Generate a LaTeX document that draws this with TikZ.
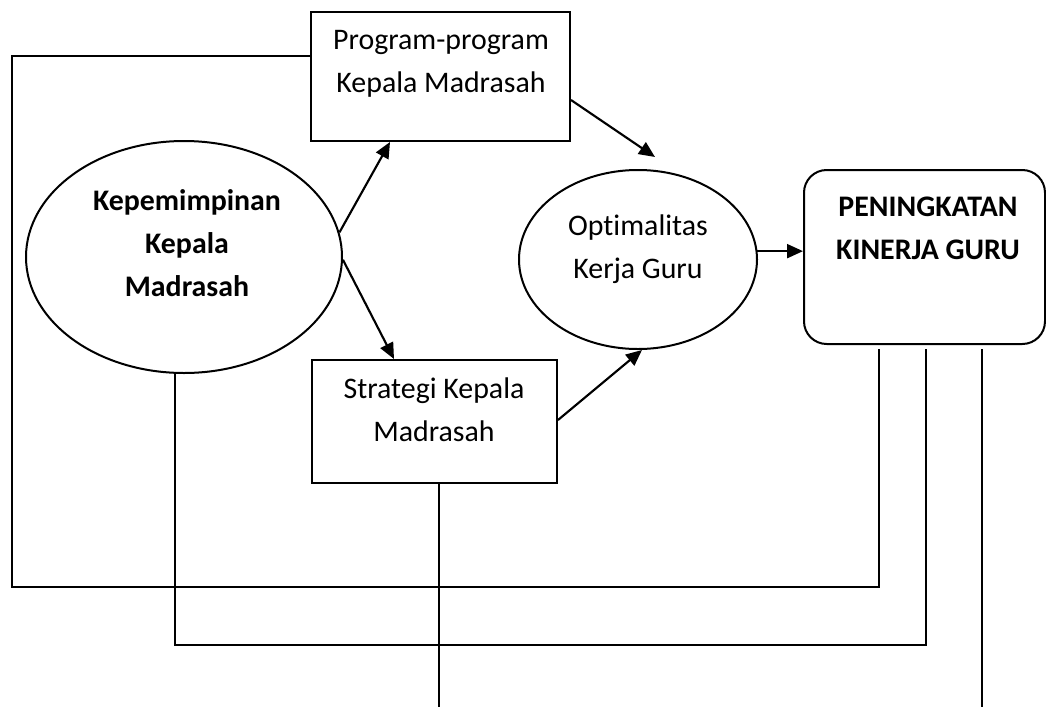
\documentclass[tikz,border=0pt]{standalone}
\usepackage{fontspec}
\setmainfont{Carlito}[Ligatures={NoCommon}]
\usetikzlibrary{shapes.geometric,arrows.meta,calc}
\begin{document}
\begin{tikzpicture}[x=0.75pt,y=-0.75pt,
  line width=1.5pt,
  boxshape/.style={draw,rectangle,inner sep=0pt,line width=1.5pt},
  ellshape/.style={draw,ellipse,inner sep=0pt,line width=1.5pt},
  rrshape/.style={draw,rectangle,rounded corners=17pt,inner sep=0pt,line width=1.5pt},
  txt/.style={align=center,inner sep=0pt,font=\fontsize{22.4}{32.6}\selectfont},
  btxt/.style={txt,font=\fontsize{22.4}{32}\selectfont\bfseries},
  arr/.style={-{Triangle[length=12pt,width=10.5pt]},line width=1.6pt},
  fb/.style={line width=1.5pt}]
\useasboundingbox (0,0) rectangle (1046,707);
% shapes
\node[boxshape,minimum width=194.25pt,minimum height=96.75pt] (b1) at (440.5,76.5) {};
\node[boxshape,minimum width=183.75pt,minimum height=92.25pt] (b2) at (434.5,421.5) {};
\node[ellshape,minimum width=237pt,minimum height=174pt] (e1) at (184,257) {};
\node[ellshape,minimum width=178.5pt,minimum height=134.25pt] (e2) at (638,259.5) {};
\node[rrshape,minimum width=180.75pt,minimum height=130.5pt] (r) at (924.5,257) {};
% texts
\node[txt] (t1) at (441,64) {Program-program\\Kepala Madrasah};
\node[txt] (t2) at (434,410) {Strategi Kepala\\Madrasah};
\node[btxt] (t3) at (187,243) {Kepemimpinan\\Kepala\\Madrasah};
\node[txt] (t4) at (638,249) {Optimalitas\\Kerja Guru};
\node[btxt] (t5) at (928,228) {PENINGKATAN\\KINERJA GURU};
% arrows
\draw[arr] (e1.9) -- ($(b1.south)+(-50.5,0)$);
\draw[arr] (e1.-1) -- ($(b2.north)+(-40.5,0)$);
\draw[arr] ($(b1.east)+(0,23.5)$) -- ($(e2.north)+(17,-12)$);
\draw[arr] ($(b2.east)+(0,-1.5)$) -- ($(e2.south)+(4,0)$);
\draw[arr] (e2.4) -- (e2.4 -| r.west);
% feedback lines
\coordinate (r1) at ($(r.south)+(-45.5,4)$);
\coordinate (r2) at ($(r.south)+(1.5,4)$);
\coordinate (r3) at ($(r.south)+(57,4)$);
\coordinate (k1) at (12,587);
\coordinate (k2) at (926,645);
\coordinate (z3) at (439,707);
\coordinate (z4) at (981.5,707);
\draw[fb] ($(b1.west)+(0,-20.5)$) -| (k1) -| (r1);
\draw[fb] ($(e1.south)+(-9,0)$) |- (k2) -- (r2);
\draw[fb] ($(b2.south)+(4.5,0)$) -- (z3);
\draw[fb] (r3) -- (z4);
\end{tikzpicture}
\end{document}
